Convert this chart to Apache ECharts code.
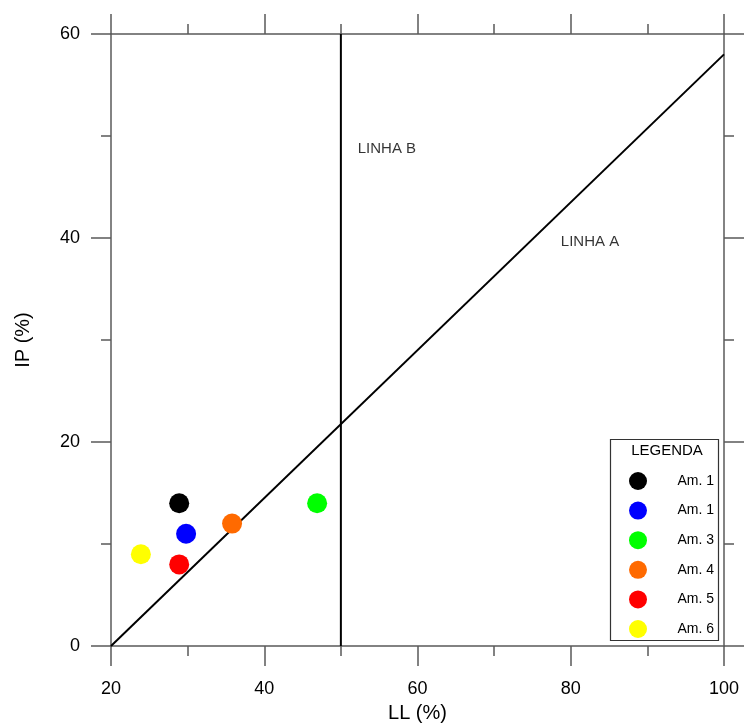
<!DOCTYPE html>
<html>
<head>
<meta charset="utf-8">
<script src="https://cdn.jsdelivr.net/npm/echarts@6/dist/echarts.min.js"></script>
<style>html,body{margin:0;padding:0;background:#fff;}#c{width:745px;height:725px;}</style>
</head>
<body>
<div id="c"></div>
<script>
var sampleLabels = ['Am. 1', 'Am. 1', 'Am. 3', 'Am. 4', 'Am. 5', 'Am. 6'];
var sampleColors = ['#000000', '#0000ff', '#00ff00', '#ff6a00', '#ff0000', '#ffff00'];
var sampleLL = [28.9, 29.8, 46.9, 35.8, 28.9, 23.9];
var sampleIP = [14.0, 11.0, 14.0, 12.0, 8.0, 9.0];
var lineA = [[20, 0], [100, 58]];
var lineB = [[50, 0], [50, 60]];
var lineLabels = [[52.2, 48.7, 'LINHA B'], [78.7, 39.6, 'LINHA A']];
var xTicks = [20, 40, 60, 80, 100];
var yTicks = [0, 20, 40, 60];

var FONT = 'Liberation Sans, Arial, sans-serif';
var axisGray = '#5a5a5a';

function mkAxis(pos, isX, showLabel, name) {
  var a = {
    type: 'value',
    position: pos,
    min: isX ? 20 : 0,
    max: isX ? 100 : 60,
    interval: 20,
    axisLine: { show: true, onZero: false, lineStyle: { color: axisGray, width: 1.5 } },
    axisTick: { show: true, inside: false, length: 20, lineStyle: { color: axisGray, width: 1.5 } },
    minorTick: { show: true, splitNumber: 2, length: 10, lineStyle: { color: axisGray, width: 1.5 } },
    splitLine: { show: false },
    minorSplitLine: { show: false },
    axisLabel: {
      show: showLabel, fontSize: 18, color: '#000', fontFamily: FONT, margin: isX ? 34 : 31,
      formatter: function (v) { return (isX ? xTicks : yTicks).indexOf(v) >= 0 ? String(v) : ''; }
    }
  };
  if (name) {
    a.name = name;
    a.nameLocation = 'middle';
    a.nameTextStyle = { fontSize: 20, color: '#000', fontFamily: FONT };
    a.nameGap = isX ? 57 : 78;
  }
  return a;
}

var series = [
  { type: 'line', xAxisIndex: 0, yAxisIndex: 0, data: lineA, symbol: 'none', lineStyle: { color: '#000', width: 2 }, silent: true, z: 3 },
  { type: 'line', xAxisIndex: 0, yAxisIndex: 0, data: lineB, symbol: 'none', lineStyle: { color: '#000', width: 2 }, silent: true, z: 3 },
  { type: 'scatter', xAxisIndex: 0, yAxisIndex: 0, data: lineLabels, symbolSize: 0, silent: true,
    label: { show: true, position: 'right', distance: 0, color: '#000', fontSize: 15, fontFamily: FONT,
      formatter: function (p) { return p.data[2]; } } }
];
var legendData = [];
for (var i = 0; i < sampleLabels.length; i++) {
  var nm = 's' + i;
  legendData.push(nm);
  series.push({
    type: 'scatter', name: nm, xAxisIndex: 0, yAxisIndex: 0,
    data: [[sampleLL[i], sampleIP[i]]],
    symbol: 'circle', symbolSize: 20,
    itemStyle: { color: sampleColors[i], opacity: 1 },
    z: 5
  });
}

var chart = echarts.init(document.getElementById('c'), null, { renderer: 'canvas' });
chart.setOption({
  animation: false,
  backgroundColor: '#fff',
  grid: { left: 111, top: 34, width: 613, height: 612, containLabel: false, outerBoundsMode: 'none' },
  xAxis: [mkAxis('bottom', true, true, 'LL (%)'), mkAxis('top', true, false)],
  yAxis: [mkAxis('left', false, true, 'IP (%)'), mkAxis('right', false, false)],
  title: { text: 'LEGENDA', left: 662, top: 438, textAlign: 'center',
    textStyle: { fontSize: 15, fontWeight: 'normal', color: '#000', fontFamily: FONT } },
  legend: {
    orient: 'vertical', left: 624, top: 467, data: legendData,
    icon: 'circle', itemWidth: 18, itemHeight: 18, itemGap: 11.6,
    selectedMode: false,
    formatter: function (n) { return '{a|' + sampleLabels[+n.slice(1)] + '}'; },
    textStyle: { color: '#000', fontSize: 14, fontFamily: FONT,
      rich: { a: { width: 62, align: 'right', fontSize: 14, fontFamily: FONT, color: '#000' } } }
  },
  graphic: [{ type: 'rect', left: 608, top: 437, shape: { width: 108, height: 201 },
    style: { fill: 'none', stroke: '#333', lineWidth: 1.2 }, z: 10 }],
  series: series
});
</script>
</body>
</html>
